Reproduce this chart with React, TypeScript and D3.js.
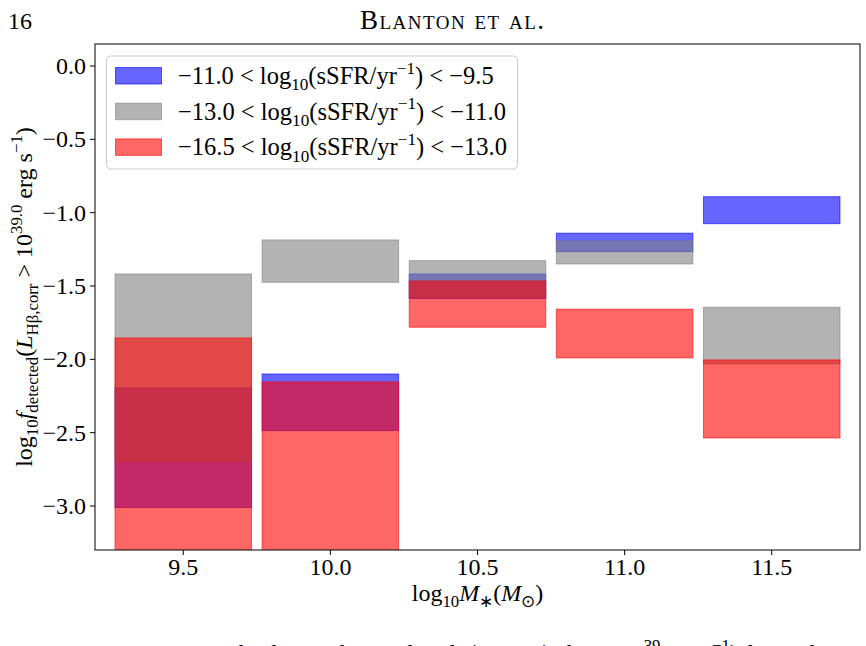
import * as React from "react";
import * as d3 from "d3";

// stellar mass bin centres, log10 M*
const massBins = [9.5, 10.0, 10.5, 11.0, 11.5];

// log10 f_detected ranges per mass bin, one pair of arrays per sSFR class
const starFormingLow = [-3.01, -2.486, -1.585, -1.266, -1.075];
const starFormingHigh = [-2.195, -2.1, -1.418, -1.14, -0.891];
const greenValleyLow = [-2.695, -1.475, -1.577, -1.35, -2.031];
const greenValleyHigh = [-1.418, -1.186, -1.327, -1.193, -1.645];
const quiescentLow = [-3.6, -3.6, -1.781, -1.99, -2.536];
const quiescentHigh = [-1.854, -2.154, -1.466, -1.658, -2.004];

const sfrLower = ["−11.0", "−13.0", "−16.5"];
const sfrUpper = ["−9.5", "−11.0", "−13.0"];

const xTicks = [9.5, 10.0, 10.5, 11.0, 11.5];
const yTicks = [0.0, -0.5, -1.0, -1.5, -2.0, -2.5, -3.0];

const colors = ["#0000ff", "#808080", "#ff0000"];
const alpha = 0.6;
const halfWidth = 0.232;
const font = "'Liberation Serif', 'Times New Roman', serif";

type Seg = { t: string; it?: boolean; sub?: boolean; sup?: boolean };

function MathSpans({ segs, size }: { segs: Seg[]; size: number }) {
	let off = 0;
	return (
		<>
			{segs.map((s, i) => {
				const target = s.sub ? 0.25 * size : s.sup ? -0.42 * size : 0;
				const dy = target - off;
				off = target;
				return (
					<tspan
						key={i}
						dy={dy}
						fontSize={s.sub || s.sup ? size * 0.7 : size}
						fontStyle={s.it ? "italic" : "normal"}
					>
						{s.t}
					</tspan>
				);
			})}
		</>
	);
}

const fmt = (v: number) => (v < 0 ? "−" : "") + d3.format(".1f")(Math.abs(v));

export default function App() {
	const width = 866;
	const height = 646;
	const left = 95;
	const right = 860;
	const top = 44;
	const bottom = 550;
	const fs = 24;
	const legendFs = 24.5;

	const x = d3.scaleLinear([9.2, 11.8], [left, right]);
	const y = d3.scaleLinear([-3.3, 0.15], [bottom, top]);

	const series = [
		{ lo: starFormingLow, hi: starFormingHigh },
		{ lo: greenValleyLow, hi: greenValleyHigh },
		{ lo: quiescentLow, hi: quiescentHigh },
	];

	const yLabel: Seg[] = [
		{ t: "log" },
		{ t: "10", sub: true },
		{ t: "f", it: true },
		{ t: "detected", sub: true },
		{ t: "(" },
		{ t: "L", it: true },
		{ t: "Hβ,corr", sub: true },
		{ t: " > 10" },
		{ t: "39.0", sup: true },
		{ t: " erg s" },
		{ t: "−1", sup: true },
		{ t: ")" },
	];

	const xLabel: Seg[] = [
		{ t: "log" },
		{ t: "10", sub: true },
		{ t: "M", it: true },
		{ t: "∗", sub: true },
		{ t: "(" },
		{ t: "M", it: true },
		{ t: "⊙", sub: true },
		{ t: ")" },
	];

	const legendLabel = (i: number): Seg[] => [
		{ t: `${sfrLower[i]} < log` },
		{ t: "10", sub: true },
		{ t: "(sSFR/yr" },
		{ t: "−1", sup: true },
		{ t: `) < ${sfrUpper[i]}` },
	];

	const caption: Seg[] = [
		{ t: "Figure 14.— Fraction of galaxies detected with (L" },
		{ t: "Hβ,corr", sub: true },
		{ t: ") above 10" },
		{ t: "39", sup: true },
		{ t: " erg s" },
		{ t: "−1", sup: true },
		{ t: ") for each" },
	];

	return (
		<svg
			width={width}
			height={height}
			style={{ position: "absolute", left: 0, top: 0, background: "white" }}
			fontFamily={font}
			fill="#000"
		>
			<defs>
				<clipPath id="plot-clip">
					<rect x={left} y={top} width={right - left} height={bottom - top} />
				</clipPath>
			</defs>

			{/* running header */}
			<text x={8} y={29} fontSize={fs}>
				16
			</text>
			<text
				x={360}
				y={29}
				fontSize={27}
				textLength={184}
				lengthAdjust="spacing"
				style={{ fontVariant: "small-caps" }}
			>
				Blanton et al.
			</text>

			{/* bars */}
			<g clipPath="url(#plot-clip)">
				{series.map((s, si) =>
					massBins.map((m, i) => (
						<rect
							key={`${si}-${i}`}
							x={x(m - halfWidth)}
							y={y(s.hi[i])}
							width={x(m + halfWidth) - x(m - halfWidth)}
							height={y(s.lo[i]) - y(s.hi[i])}
							fill={colors[si]}
							fillOpacity={alpha}
							stroke={colors[si]}
							strokeOpacity={alpha}
							strokeWidth={1}
						/>
					))
				)}
			</g>

			{/* frame */}
			<rect
				x={left}
				y={top}
				width={right - left}
				height={bottom - top}
				fill="none"
				stroke="#000"
				strokeWidth={1}
			/>

			{/* x axis */}
			{xTicks.map((t) => (
				<g key={t}>
					<line x1={x(t)} x2={x(t)} y1={bottom} y2={bottom + 5} stroke="#000" />
					<text x={x(t)} y={bottom + 25} fontSize={fs} textAnchor="middle">
						{t.toFixed(1)}
					</text>
				</g>
			))}
			<text x={(left + right) / 2} y={601} fontSize={fs} textAnchor="middle">
				<MathSpans segs={xLabel} size={fs} />
			</text>

			{/* y axis */}
			{yTicks.map((t) => (
				<g key={t}>
					<line x1={left - 5} x2={left} y1={y(t)} y2={y(t)} stroke="#000" />
					<text
						x={left - 9}
						y={y(t)}
						dy="0.33em"
						fontSize={fs}
						textAnchor="end"
					>
						{fmt(t)}
					</text>
				</g>
			))}
			<text
				transform={`translate(32 ${(top + bottom) / 2}) rotate(-90)`}
				fontSize={fs}
				textAnchor="middle"
			>
				<MathSpans segs={yLabel} size={fs} />
			</text>

			{/* legend */}
			<g>
				<rect
					x={106.5}
					y={56}
					width={411}
					height={113}
					rx={4}
					fill="#fff"
					fillOpacity={0.8}
					stroke="#cccccc"
				/>
				{colors.map((c, i) => (
					<g key={c} transform={`translate(0 ${i * 35.7})`}>
						<rect
							x={115.5}
							y={67.5}
							width={46}
							height={16.5}
							fill={c}
							fillOpacity={alpha}
							stroke={c}
							strokeOpacity={alpha}
						/>
						<text x={178} y={84} fontSize={legendFs}>
							<MathSpans segs={legendLabel(i)} size={legendFs} />
						</text>
					</g>
				))}
			</g>

			{/* caption line running off the page */}
			<text x={8} y={661} fontSize={fs}>
				<MathSpans segs={caption} size={fs} />
			</text>
		</svg>
	);
}
